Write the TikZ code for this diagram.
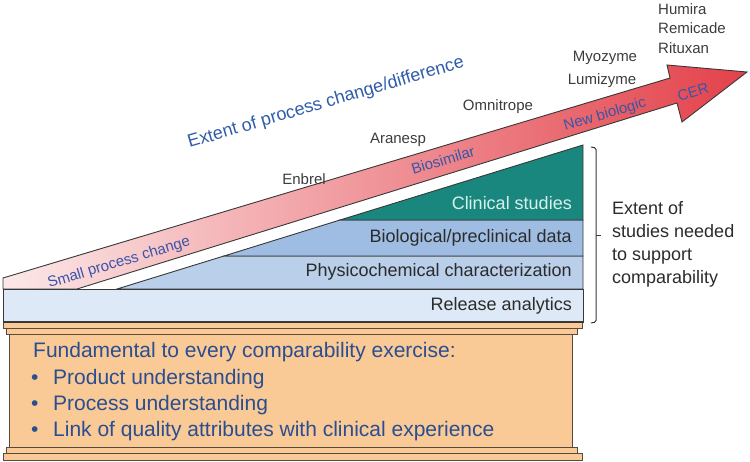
\documentclass[tikz,border=0pt]{standalone}
\usepackage{fontspec}
\setmainfont{Liberation Sans}
\usepackage{tikz}
\definecolor{edgecol}{HTML}{383838}
\definecolor{plinthedge}{HTML}{5A4A3E}
\definecolor{plinthfill}{HTML}{F9C996}
\definecolor{releasefill}{HTML}{DDE9F6}
\definecolor{physfill}{HTML}{B9CFEA}
\definecolor{biofill}{HTML}{9FBCE2}
\definecolor{clinfill}{HTML}{19877E}
\definecolor{clintext}{HTML}{D8F0EC}
\definecolor{arrowL}{HTML}{FCE8E8}
\definecolor{arrowM}{HTML}{F3A2A5}
\definecolor{arrowR}{HTML}{E3414A}
\definecolor{arrowtext}{HTML}{3A55A8}
\definecolor{titleblue}{HTML}{2F5CA8}
\definecolor{basetextcol}{HTML}{2A4E90}
\definecolor{druggray}{HTML}{3C3C3C}
\definecolor{bandtext}{HTML}{2B2B2B}

\begin{document}
\begin{tikzpicture}[x=1pt, y=-1pt]
    \tikzset{layer/.style = {draw=edgecol, line width=0.9pt}}
    \tikzset{plinth/.style = {draw=plinthedge, fill=plinthfill, line width=1pt}}
    \tikzset{drug/.style = {font=\fontsize{15}{15}\selectfont, text=druggray, inner sep=0pt}}
    \tikzset{onarrow/.style = {font=\fontsize{15}{15}\selectfont, text=arrowtext, rotate=16.7, inner sep=0pt}}
    \tikzset{band/.style = {font=\fontsize{18}{18}\selectfont, text=bandtext, anchor=east, inner sep=0pt}}
    \tikzset{basetext/.style = {font=\fontsize{21}{21}\selectfont, text=basetextcol, anchor=west, inner sep=0pt}}

    \useasboundingbox (0,0) rectangle (750,462);

    % pedestal
    \filldraw[plinth] (9,334) rectangle (572,448);
    \filldraw[plinth] (6,329) rectangle (577,335);
    \filldraw[plinth] (3,322) rectangle (582,329);
    \filldraw[plinth] (6,447) rectangle (577,453);
    \filldraw[plinth] (3,453) rectangle (582,460);

    % layers
    \filldraw[layer, fill=releasefill] (3,289) rectangle (583,322);
    \filldraw[layer, fill=physfill] (117,289) -- (224,256) -- (583,256) -- (583,289) -- cycle;
    \filldraw[layer, fill=biofill] (224,256) -- (340,220) -- (583,220) -- (583,256) -- cycle;
    \filldraw[layer, fill=clinfill] (340,220) -- (583,145) -- (583,220) -- cycle;
    \draw[edgecol, line width=1.8pt] (3,322) -- (583,322);

    % arrow
    \shadedraw[layer, left color=arrowL, middle color=arrowM, right color=arrowR]
        (3,289) -- (3,278) -- (670,78) -- (667,65) -- (747,72) -- (682,122)
        -- (677,103) -- (77,289) -- cycle;

    % bracket
    \draw[edgecol, line width=1pt, rounded corners=1.5pt] (591,147) -- (596,148) -- (596,322) -- (591,323);
    \draw[edgecol, line width=1pt] (596,236) -- (601,236);

    % labels
    \node[drug, anchor=west] (humira) at (658,9) {Humira};
    \node[drug, anchor=west] (remicade) at (658,28) {Remicade};
    \node[drug, anchor=west] (rituxan) at (658,48) {Rituxan};
    \node[drug] (myozyme) at (605,58) {Myozyme};
    \node[drug] (lumizyme) at (602,81) {Lumizyme};
    \node[drug] (omnitrope) at (498,107) {Omnitrope};
    \node[drug] (aranesp) at (398,140) {Aranesp};
    \node[drug] (enbrel) at (304,179) {Enbrel};

    \node[font=\fontsize{18}{18}\selectfont, text=titleblue, rotate=16.4, inner sep=0pt] (extent) at (326,103) {Extent of process change/difference};

    \node[onarrow] (small) at (119,263) {Small process change};
    \node[onarrow] (biosim) at (443,160) {Biosimilar};
    \node[onarrow] (newbio) at (605,115) {New biologic};
    \node[onarrow] (cer) at (693,92) {CER};

    \node[band, text=clintext] (clin) at (572,203) {Clinical studies};
    \node[band] (bio) at (572,238) {Biological/preclinical data};
    \node[band] (phys) at (572,272) {Physicochemical characterization};
    \node[band] (release) at (572,306) {Release analytics};

    \node[font=\fontsize{18}{23}\selectfont, text=bandtext, anchor=north west, align=left, inner sep=0pt] (studies) at (612,201)
        {Extent of\\studies needed\\to support\\comparability};

    \node[basetext] (fund) at (33,352) {Fundamental to every comparability exercise:};
    \node[basetext] (item1) at (31,379) {\makebox[22pt][l]{\textbullet}Product understanding};
    \node[basetext] (item2) at (31,405) {\makebox[22pt][l]{\textbullet}Process understanding};
    \node[basetext] (item3) at (31,431) {\makebox[22pt][l]{\textbullet}Link of quality attributes with clinical experience};
\end{tikzpicture}
\end{document}
